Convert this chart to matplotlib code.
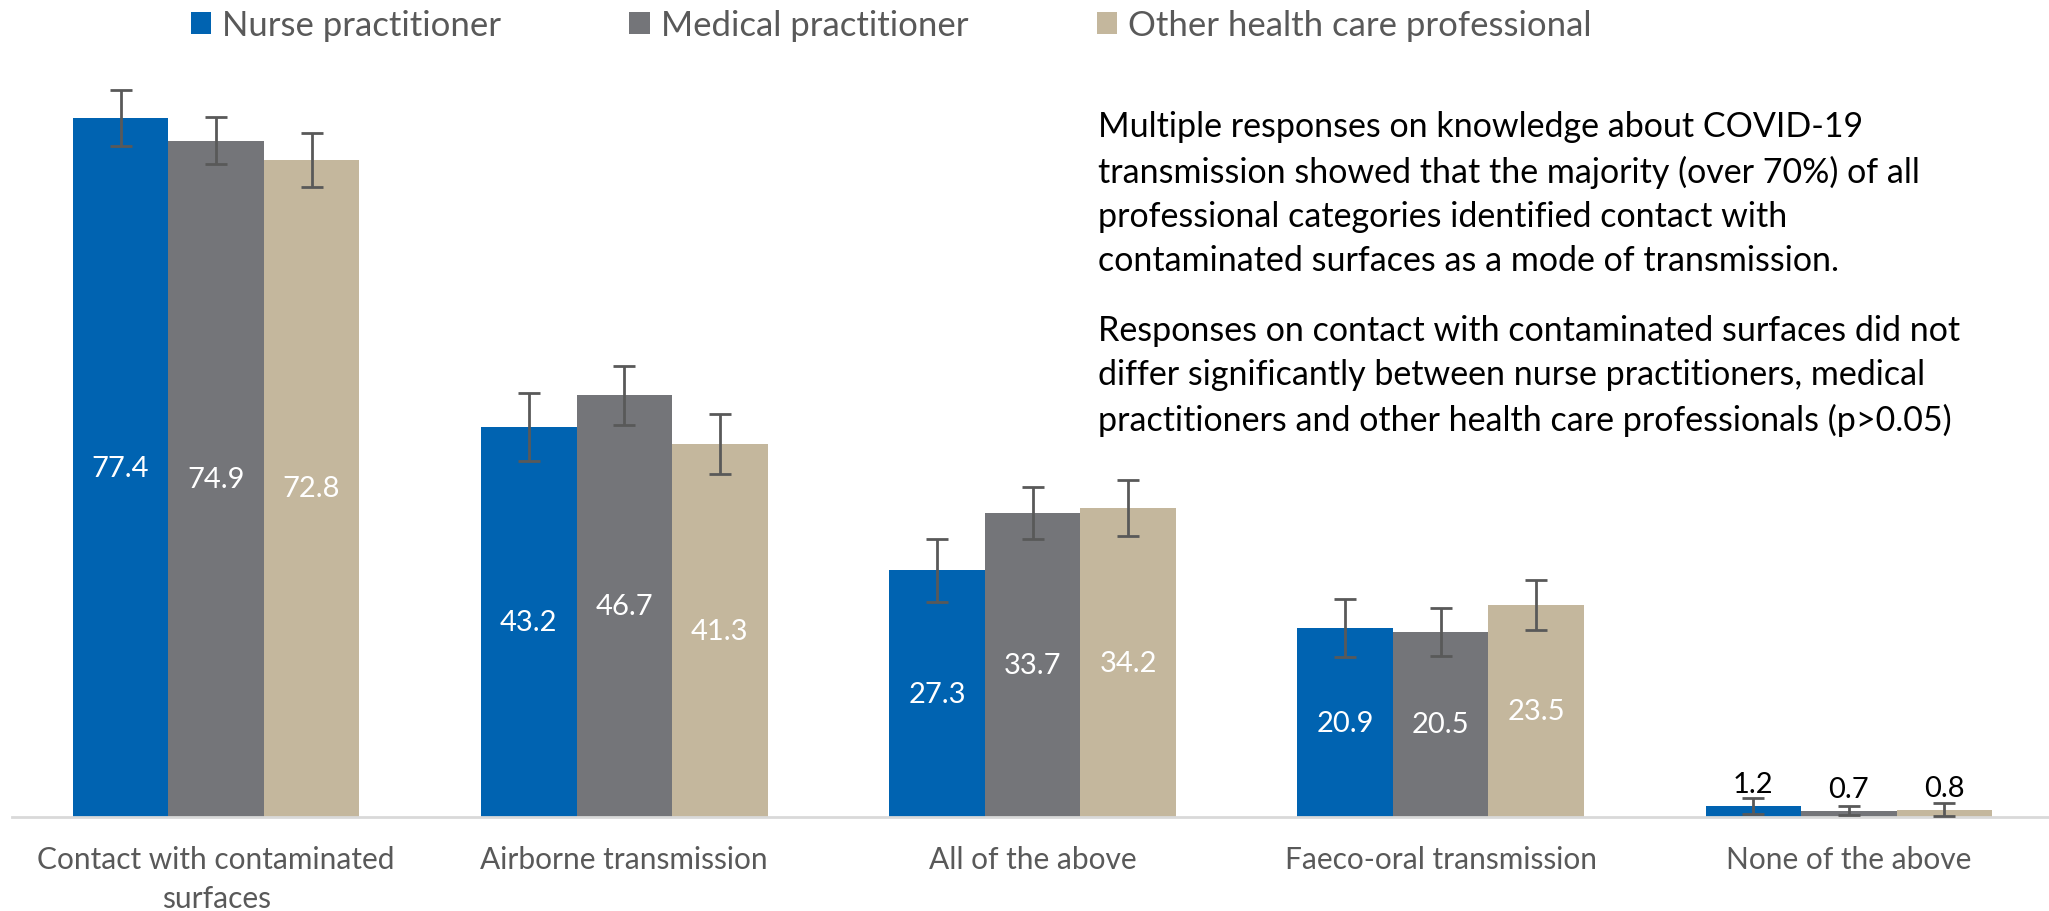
#!/usr/bin/env python3
# -*- coding: utf-8 -*-

"""
COVID-19 transmission knowledge by professional category
"""

import numpy as np
import matplotlib
matplotlib.use('Agg')
import matplotlib.pyplot as plt
from matplotlib.patches import Patch

plt.rcParams['font.family'] = ['Lato', 'DejaVu Sans']

categories = ['Contact with contaminated\nsurfaces', 'Airborne transmission',
              'All of the above', 'Faeco-oral transmission', 'None of the above']
series_names = ['Nurse practitioner', 'Medical practitioner', 'Other health care professional']

nurse = [77.4, 43.2, 27.3, 20.9, 1.2]
medical = [74.9, 46.7, 33.7, 20.5, 0.7]
other = [72.8, 41.3, 34.2, 23.5, 0.8]

nurse_err = [3.1, 3.8, 3.5, 3.2, 0.9]
medical_err = [2.6, 3.3, 2.9, 2.7, 0.5]
other_err = [3.0, 3.3, 3.1, 2.8, 0.7]

colors = ['#0063B1', '#747579', '#C4B79D']

note_1 = ("Multiple responses on knowledge about COVID-19\n"
          "transmission showed that the majority (over 70%) of all\n"
          "professional categories identified contact with\n"
          "contaminated surfaces as a mode of transmission.")
note_2 = ("Responses on contact with contaminated surfaces did not\n"
          "differ significantly between nurse practitioners, medical\n"
          "practitioners and other health care professionals (p>0.05)")


def plot_chart(output_file='out.png'):
    W, H = 2049, 912
    fig = plt.figure(figsize=(W / 100, H / 100), dpi=100)

    # axes in pixel coords: x 12..2053, baseline at y=818, 90 units tall
    left, right = 12, 2053
    base, top = 818, 818 - 90 * 9.03
    ax = fig.add_axes([left / W, 1 - base / H, (right - left) / W, (base - top) / H])

    x = np.arange(len(categories))
    width = 0.234
    all_vals = [nurse, medical, other]
    all_errs = [nurse_err, medical_err, other_err]

    for i, (vals, errs, col) in enumerate(zip(all_vals, all_errs, colors)):
        pos = x + (i - 1) * width
        ax.bar(pos, vals, width, color=col, zorder=2)
        ax.errorbar(pos, vals, yerr=errs, fmt='none', ecolor='#595959',
                    elinewidth=2, capsize=8, capthick=2, zorder=3)
        for p, v in zip(pos, vals):
            if v > 5:
                ax.text(p, v / 2, f'{v:.1f}', ha='center', va='center',
                        color='white', fontsize=21)
            else:
                ax.text(p, v + 2.4, f'{v:.1f}', ha='center', va='center',
                        color='black', fontsize=21)

    ax.set_xlim(-0.5, len(categories) - 0.5)
    ax.set_ylim(0, 90)
    for s in ['top', 'right', 'left']:
        ax.spines[s].set_visible(False)
    ax.spines['bottom'].set_color('#d9d9d9')
    ax.spines['bottom'].set_linewidth(2)
    ax.set_yticks([])
    ax.set_xticks(x)
    ax.set_xticklabels(categories, fontsize=21.5, color='#595959', linespacing=1.5)
    ax.tick_params(axis='x', length=0, pad=20)

    handles = [Patch(facecolor=c, edgecolor='none') for c in colors]
    fig.legend(handles, series_names, loc='center', ncol=3, frameon=False,
               bbox_to_anchor=(891 / W, 1 - 26 / H), fontsize=25,
               labelcolor='#595959', handlelength=0.6, handleheight=0.6,
               handletextpad=0.3, columnspacing=3.7)

    fig.text(1098 / W, 1 - 111 / H, note_1, ha='left', va='top',
             fontsize=24.5, linespacing=1.46)
    fig.text(1098 / W, 1 - 315 / H, note_2, ha='left', va='top',
             fontsize=24.5, linespacing=1.46)

    fig.savefig(output_file, dpi=100)
    plt.close(fig)
    print(f"Saved: {output_file}")


if __name__ == '__main__':
    plot_chart()
